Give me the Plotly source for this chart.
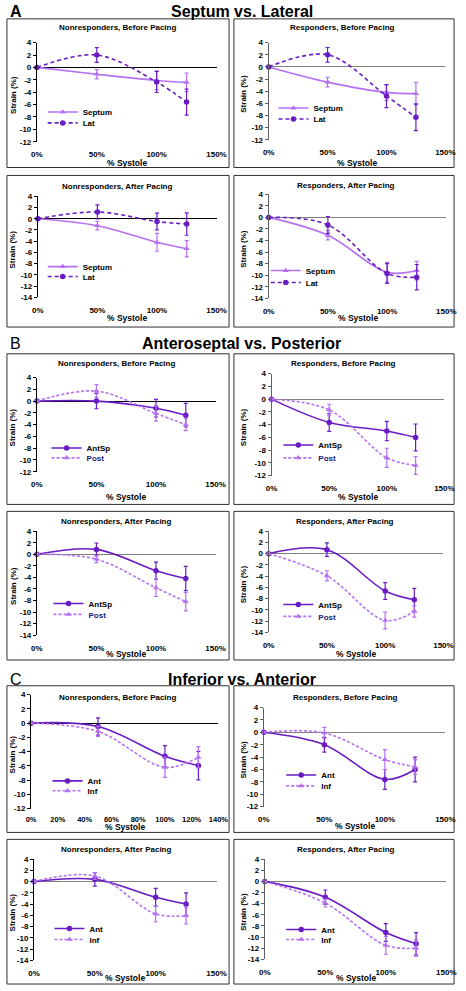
import plotly.graph_objects as go

W, H = 466, 991
FONT = "Arial, Liberation Sans, sans-serif"
DARK = "#6A1CC4"
LIGHT = "#B570F2"

# ---------------- data ----------------
systole_pct = [0, 0.5, 1.0, 1.25]

x_ticks = [0, 0.5, 1.0, 1.5]
x_tick_labels = ["0%", "50%", "100%", "150%"]
x_ticks_fine = [0, 0.2, 0.4, 0.6, 0.8, 1.0, 1.2, 1.4]
x_tick_labels_fine = ["0%", "20%", "40%", "60%", "80%", "100%", "120%", "140%"]
y_ticks_12 = [4, 2, 0, -2, -4, -6, -8, -10, -12]
y_ticks_14 = [4, 2, 0, -2, -4, -6, -8, -10, -12, -14]

section_titles = ["Septum vs. Lateral", "Anteroseptal vs. Posterior", "Inferior vs. Anterior"]
section_letters = ["A", "B", "C"]
panel_titles = ["Nonresponders, Before Pacing", "Responders, Before Pacing",
                "Nonresponders, After Pacing", "Responders, After Pacing"]

# Section A: Septum vs Lateral
a_names = ["Septum", "Lat"]
a_nr_before_septum = [0, -1.1, -2.1, -2.4];   a_nr_before_septum_err = [0, 0.75, 1.5, 1.5]
a_nr_before_lat = [0, 2.0, -2.35, -5.6];      a_nr_before_lat_err = [0, 1.2, 1.7, 2.1]
a_r_before_septum = [0, -2.5, -4.2, -4.4];    a_r_before_septum_err = [0, 0.8, 1.3, 1.8]
a_r_before_lat = [0, 2.0, -4.8, -8.3];        a_r_before_lat_err = [0, 1.2, 1.9, 2.2]
a_nr_after_septum = [0, -1.25, -4.2, -5.35];  a_nr_after_septum_err = [0, 0.75, 1.6, 1.45]
a_nr_after_lat = [0, 1.2, -0.5, -0.95];       a_nr_after_lat_err = [0, 1.25, 1.5, 2.0]
a_r_after_septum = [0, -3.1, -9.5, -9.2];     a_r_after_septum_err = [0, 0.8, 1.7, 1.6]
a_r_after_lat = [0, -1.3, -9.7, -10.35];      a_r_after_lat_err = [0, 1.45, 1.7, 2.2]

# Section B: Anteroseptal vs Posterior
b_names = ["AntSp", "Post"]
b_nr_before_antsp = [0, 0.0, -1.2, -2.4];     b_nr_before_antsp_err = [0, 1.3, 1.5, 2.0]
b_nr_before_post = [0, 1.7, -2.1, -4.0];      b_nr_before_post_err = [0, 1.1, 1.3, 1.0]
b_r_before_antsp = [0, -3.65, -5.0, -6.0];    b_r_before_antsp_err = [0, 1.4, 1.5, 2.1]
b_r_before_post = [0, -1.7, -9.2, -10.4];     b_r_before_post_err = [0, 0.9, 1.5, 1.4]
b_nr_after_antsp = [0, 0.85, -2.85, -4.2];    b_nr_after_antsp_err = [0, 1.1, 1.5, 2.1]
b_nr_after_post = [0, -0.85, -5.8, -8.2];     b_nr_after_post_err = [0, 0.6, 1.5, 1.6]
b_r_after_antsp = [0, 0.7, -6.65, -8.2];      b_r_after_antsp_err = [0, 1.2, 1.5, 2.0]
b_r_after_post = [0, -3.95, -11.9, -10.3];    b_r_after_post_err = [0, 0.9, 1.5, 1.0]

# Section C: Inferior vs Anterior
c_names = ["Ant", "Inf"]
c_nr_before_ant = [0, -0.47, -4.65, -5.95];   c_nr_before_ant_err = [0, 1.2, 1.5, 2.0]
c_nr_before_inf = [0, -1.16, -6.2, -4.8];     c_nr_before_inf_err = [0, 0.7, 1.4, 1.5]
c_r_before_ant = [0, -2.0, -7.6, -6.0];       c_r_before_ant_err = [0, 1.2, 1.6, 2.0]
c_r_before_inf = [0, -0.1, -4.4, -5.6];       c_r_before_inf_err = [0, 0.9, 1.6, 1.2]
c_nr_after_ant = [0, 0.4, -2.8, -4.0];        c_nr_after_ant_err = [0, 1.2, 1.6, 2.0]
c_nr_after_inf = [0, 1.0, -5.75, -6.05];      c_nr_after_inf_err = [0, 0.6, 1.4, 1.5]
c_r_after_ant = [0, -2.85, -9.2, -11.2];      c_r_after_ant_err = [0, 1.3, 1.6, 2.0]
c_r_after_inf = [0, -3.9, -11.5, -12.0];      c_r_after_inf_err = [0, 0.7, 1.6, 1.5]

# ---------------- styles ----------------
sec_styles = [
    [(LIGHT, "solid", "triangle-up"), (DARK, "4px,3px", "circle")],
    [(DARK, "solid", "circle"), (LIGHT, "3px,2px", "triangle-up")],
    [(DARK, "solid", "circle"), (LIGHT, "3px,2px", "triangle-up")],
]
sec_names = [a_names, b_names, c_names]
legend_colors = [["black", "black"], ["black", "#1A1A7A"], ["black", "black"]]

series = [
    [(a_nr_before_septum, a_nr_before_septum_err, a_nr_before_lat, a_nr_before_lat_err),
     (a_r_before_septum, a_r_before_septum_err, a_r_before_lat, a_r_before_lat_err),
     (a_nr_after_septum, a_nr_after_septum_err, a_nr_after_lat, a_nr_after_lat_err),
     (a_r_after_septum, a_r_after_septum_err, a_r_after_lat, a_r_after_lat_err)],
    [(b_nr_before_antsp, b_nr_before_antsp_err, b_nr_before_post, b_nr_before_post_err),
     (b_r_before_antsp, b_r_before_antsp_err, b_r_before_post, b_r_before_post_err),
     (b_nr_after_antsp, b_nr_after_antsp_err, b_nr_after_post, b_nr_after_post_err),
     (b_r_after_antsp, b_r_after_antsp_err, b_r_after_post, b_r_after_post_err)],
    [(c_nr_before_ant, c_nr_before_ant_err, c_nr_before_inf, c_nr_before_inf_err),
     (c_r_before_ant, c_r_before_ant_err, c_r_before_inf, c_r_before_inf_err),
     (c_nr_after_ant, c_nr_after_ant_err, c_nr_after_inf, c_nr_after_inf_err),
     (c_r_after_ant, c_r_after_ant_err, c_r_after_inf, c_r_after_inf_err)],
]

# geometry in pixels
geo = [
    # A
    [dict(p=(32, 218, 39, 139), ymin=-12, xmax=1.5, z="black", st=(115, 24), lg=(83, 112, 123), box=(1, 231, 15, 165), xt=160),
     dict(p=(272, 455, 39, 137), ymin=-12, xmax=1.5, z="#808080", st=(348, 24), lg=(322, 108, 119), box=(236, 464, 15, 165), xt=160),
     dict(p=(33, 218, 194, 296), ymin=-14, xmax=1.5, z="black", st=(115, 184), lg=(83, 268, 278), box=(1, 231, 173, 326), xt=317),
     dict(p=(272, 456, 192, 297), ymin=-14, xmax=1.5, z="#808080", st=(352, 183), lg=(314, 272, 284), box=(236, 464, 173, 326), xt=317)],
    # B
    [dict(p=(32, 217, 377, 472), ymin=-12, xmax=1.5, z="black", st=(114, 363), lg=(87, 451, 461), box=(1, 231, 353, 505), xt=498),
     dict(p=(275, 454, 373, 476), ymin=-12, xmax=1.5, z="#808080", st=(350, 363), lg=(327, 448, 461), box=(236, 464, 353, 505), xt=498),
     dict(p=(32, 217, 532, 637), ymin=-14, xmax=1.5, z="#808080", st=(114, 522), lg=(89, 608, 619), box=(1, 231, 512, 662), xt=656),
     dict(p=(272, 453, 532, 634), ymin=-14, xmax=1.5, z="#808080", st=(351, 522), lg=(327, 609, 621), box=(236, 464, 512, 662), xt=656)],
    # C
    [dict(p=(26, 220, 697, 812), ymin=-12, xmax=1.4, z="black", st=(115, 700), lg=(88, 787, 797), box=(1, 231, 688, 836), xt=830),
     dict(p=(267, 455, 710, 810), ymin=-12, xmax=1.5, z="#808080", st=(352, 700), lg=(330, 781, 792), box=(236, 464, 688, 836), xt=830),
     dict(p=(29, 218, 863, 965), ymin=-14, xmax=1.5, z="#808080", st=(114, 853), lg=(90, 936, 947), box=(1, 231, 843, 989), xt=983),
     dict(p=(268, 456, 863, 964), ymin=-14, xmax=1.5, z="#808080", st=(352, 853), lg=(330, 937, 947), box=(236, 464, 843, 989), xt=983)],
]
section_header_y = [8, 343, 682]


def fx(p):
    return p / W


def fy(p):
    return 1 - p / H


fig = go.Figure()
layout = dict(
    width=W, height=H, autosize=False,
    margin=dict(l=0, r=0, t=0, b=0),
    paper_bgcolor="white", plot_bgcolor="rgba(0,0,0,0)",
    font=dict(family=FONT, size=8, color="black"),
    showlegend=True,
)
annotations = []
shapes = []

axis_i = 0
legend_i = 0
for s in range(3):
    annotations.append(dict(x=fx(2), y=fy(section_header_y[s]), xref="paper", yref="paper",
                            text=section_letters[s], showarrow=False, xanchor="left", yanchor="middle",
                            font=dict(size=16, family=FONT, color="black",
                                      weight="bold" if s == 0 else "normal")))
    annotations.append(dict(x=fx(244), y=fy(section_header_y[s]), xref="paper", yref="paper",
                            text=section_titles[s], showarrow=False, xanchor="center", yanchor="middle",
                            font=dict(size=16, family=FONT, color="black", weight="bold")))
    for k in range(4):
        axis_i += 1
        g = geo[s][k]
        x0, x1, yt, yb = g["p"]
        xa = "xaxis" if axis_i == 1 else f"xaxis{axis_i}"
        ya = "yaxis" if axis_i == 1 else f"yaxis{axis_i}"
        xr = "x" if axis_i == 1 else f"x{axis_i}"
        yr = "y" if axis_i == 1 else f"y{axis_i}"
        fine = (g["xmax"] < 1.5)
        layout[xa] = dict(domain=[fx(x0), fx(x1)], range=[0, g["xmax"]], anchor=yr,
                          tickvals=x_ticks_fine if fine else x_ticks,
                          ticktext=x_tick_labels_fine if fine else x_tick_labels,
                          showline=False, showgrid=False, zeroline=False,
                          ticks="outside", ticklen=3 if fine else 5, tickcolor="rgba(0,0,0,0)",
                          tickfont=dict(size=7.5 if fine else 8, family=FONT, color="black", weight="bold"),
                          fixedrange=True)
        yvals = y_ticks_12 if g["ymin"] == -12 else y_ticks_14
        axcol = "black" if k % 2 == 0 else "#606060"
        layout[ya] = dict(domain=[fy(yb), fy(yt)], range=[g["ymin"], 4], anchor=xr,
                          tickvals=yvals, ticktext=[str(v) for v in yvals],
                          showline=True, linecolor=axcol, linewidth=1,
                          ticks="outside", ticklen=3, tickwidth=1, tickcolor=axcol,
                          showgrid=False, zeroline=True, zerolinecolor=g["z"], zerolinewidth=1.2,
                          tickfont=dict(size=8, family=FONT, color="black", weight="bold"),
                          fixedrange=True)
        bx0, bx1, by0, by1 = g["box"]
        shapes.append(dict(type="rect", xref="paper", yref="paper", x0=fx(bx0), x1=fx(bx1),
                           y0=fy(by1), y1=fy(by0), line=dict(color="#303030", width=1),
                           fillcolor="rgba(0,0,0,0)", layer="below"))
        annotations.append(dict(x=fx(g["st"][0]), y=fy(g["st"][1]), xref="paper", yref="paper",
                                text=panel_titles[k], showarrow=False, xanchor="center", yanchor="middle",
                                font=dict(size=8, family=FONT, color="black", weight="bold")))
        annotations.append(dict(x=fx((x0 + x1) / 2), y=fy(g["xt"] + (1 if fine else 0)), xref="paper", yref="paper",
                                text="% Systole", showarrow=False, xanchor="center", yanchor="middle",
                                font=dict(size=8.5, family=FONT, color="black", weight="bold")))
        annotations.append(dict(x=fx(7 if k % 2 == 0 else 246), y=fy((yt + yb) / 2 + 3), xref="paper", yref="paper",
                                text="Strain (%)", showarrow=False, xanchor="center", yanchor="middle",
                                textangle=-90,
                                font=dict(size=8, family=FONT, color="black", weight="bold")))
        v1, e1, v2, e2 = series[s][k]
        for j, (vals, errs) in enumerate([(v1, e1), (v2, e2)]):
            legend_i += 1
            lid = "legend" if legend_i == 1 else f"legend{legend_i}"
            color, dash, sym = sec_styles[s][j]
            fig.add_trace(go.Scatter(
                x=systole_pct, y=vals, name=sec_names[s][j],
                mode="lines+markers", xaxis=xr, yaxis=yr, legend=lid,
                line=dict(color=color, width=1.6, dash=dash, shape="spline", smoothing=1.0),
                marker=dict(symbol=sym, size=5.5, color=color),
                error_y=dict(type="data", array=errs, visible=True, color=color, thickness=1.2, width=2),
                cliponaxis=False,
            ))
            layout[lid] = dict(x=fx(g["lg"][0] - 45), y=fy(g["lg"][1 + j] - 3), xref="paper", yref="paper",
                               xanchor="left", yanchor="middle", bgcolor="rgba(0,0,0,0)",
                               borderwidth=0, itemwidth=30,
                               font=dict(size=8, family=FONT, color=legend_colors[s][j], weight="bold"))

layout["annotations"] = annotations
layout["shapes"] = shapes
fig.update_layout(**layout)
fig.write_html("out.html",
               config={"displayModeBar": False},
               post_script="document.body.style.margin='0';document.body.style.overflow='hidden';")
